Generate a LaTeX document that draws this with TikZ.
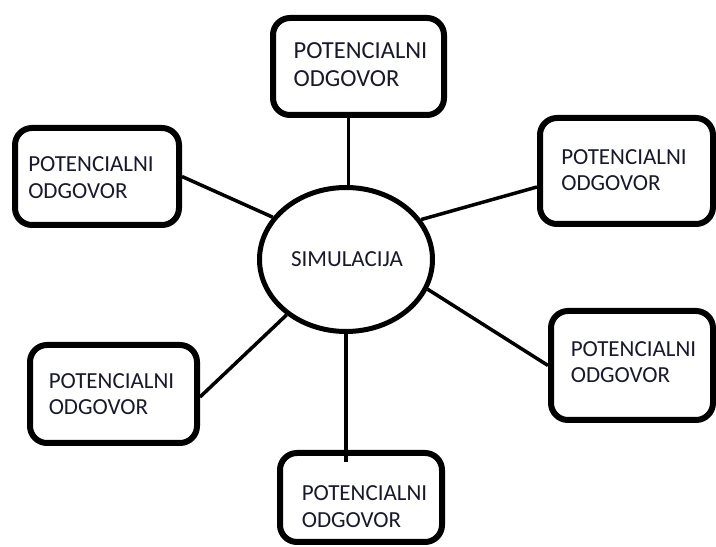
\documentclass[tikz,border=0pt]{standalone}
\usepackage{fontspec}
\setmainfont{Carlito}
\usetikzlibrary{shapes.geometric}
\definecolor{txt}{RGB}{25,25,45}
\tikzset{
  answerbox/.style={draw, line width=6pt, rounded corners=17pt, rectangle, inner sep=0pt, fill=white},
  answertext/.style={align=left, inner sep=0pt, text=txt, font=\fontsize{23}{26.5}\selectfont},
  centre/.style={draw, ellipse, line width=5pt, inner sep=0pt, fill=white},
  conn/.style={line width=3.5pt}
}
\begin{document}
\begin{tikzpicture}[x=1pt,y=1pt]
\useasboundingbox (0,0) rectangle (716,547);
% boxes (y up = 547 - y_image)
\node[answerbox, minimum width=171pt, minimum height=97pt] (T)  at (358.5,480.5) {};
\node[answerbox, minimum width=164pt, minimum height=97pt] (TL) at (97,370.5) {};
\node[answerbox, minimum width=173pt, minimum height=106pt] (TR) at (626.5,376) {};
\node[answerbox, minimum width=167pt, minimum height=98pt] (BL) at (113.5,153) {};
\node[answerbox, minimum width=162pt, minimum height=109pt] (BR) at (632,181.5) {};
\node[answerbox, minimum width=162pt, minimum height=89pt] (B)  at (361,49.5) {};
\node[centre, minimum width=173pt, minimum height=144pt] (S) at (346,287.5) {};
% connectors
\draw[conn] (S.88) -- (S.88 |- T.south);
\draw[conn] (S.150) -- (TL.east);
\draw[conn] (S.28) -- ([yshift=-16pt]TR.west);
\draw[conn] (S.-20) -- (BR.west);
\draw[conn] (S.223) -- ([yshift=-3pt]BL.east);
\draw[conn] (S.270) -- ([yshift=-12pt]S.270 |- B.north);
% texts
\node[answertext, font=\fontsize{24.5}{28}\selectfont] (tT) at (360.5,482.5) {POTENCIALNI\\ODGOVOR};
\node[answertext] (tTL) at (91,369.5) {POTENCIALNI\\ODGOVOR};
\node[answertext] (tTR) at (624,377) {POTENCIALNI\\ODGOVOR};
\node[answertext] (tBL) at (111.5,153) {POTENCIALNI\\ODGOVOR};
\node[answertext] (tBR) at (633.5,185) {POTENCIALNI\\ODGOVOR};
\node[answertext] (tB) at (364.5,40.5) {POTENCIALNI\\ODGOVOR};
\node[answertext] (tS) at (347,287.5) {SIMULACIJA};
\end{tikzpicture}
\end{document}
